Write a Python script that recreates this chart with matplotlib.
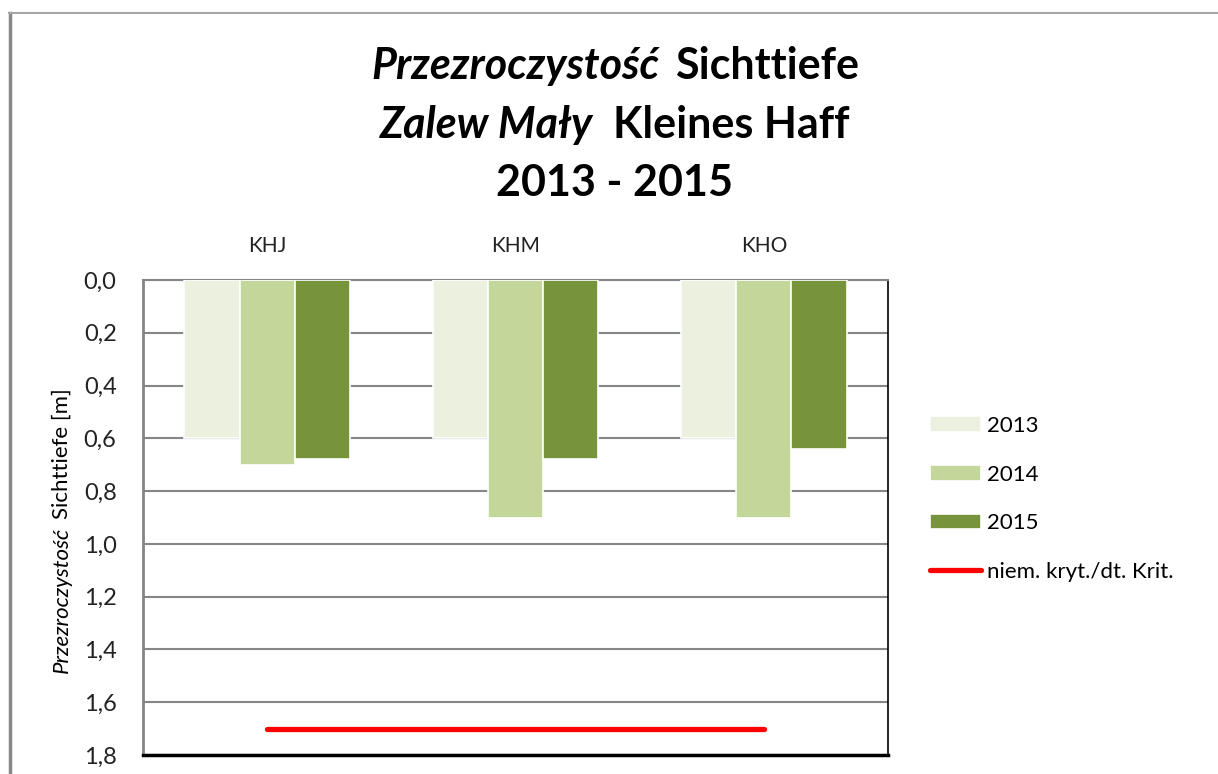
import numpy as np
import matplotlib
matplotlib.use("Agg")
import matplotlib.pyplot as plt
from matplotlib.ticker import FuncFormatter, MultipleLocator
from matplotlib.lines import Line2D

plt.rcParams['font.family'] = ['Lato', 'DejaVu Sans']

# data
stations = ['KHJ', 'KHM', 'KHO']
years = ['2013', '2014', '2015']
depth_2013 = [0.6, 0.6, 0.6]
depth_2014 = [0.7, 0.9, 0.9]
depth_2015 = [0.68, 0.68, 0.64]
crit = [1.7, 1.7, 1.7]
crit_label = 'niem. kryt./dt. Krit.'
colors = ['#EBF1DE', '#C4D79B', '#77933C']

W, H = 1218, 774
fig = plt.figure(figsize=(W / 100, H / 100), dpi=100)
ax = fig.add_axes([143 / W, 19 / H, 745 / W, 475 / H])

x = np.arange(len(stations))
bw = 0.222
for i, (vals, lab) in enumerate(zip([depth_2013, depth_2014, depth_2015], years)):
    ax.bar(x + (i - 1) * bw, vals, bw, color=colors[i], edgecolor='white',
           linewidth=1.2, label=lab, zorder=3)
ax.plot(x, crit, color='#FF0000', lw=3.8, solid_capstyle='round', label=crit_label, zorder=4)

ax.set_xlim(-0.5, 2.5)
ax.set_ylim(1.8, 0.0)
ax.yaxis.set_major_locator(MultipleLocator(0.2))
ax.yaxis.set_major_formatter(FuncFormatter(lambda v, p: f'{v:.1f}'.replace('.', ',')))
ax.grid(axis='y', color='#868686', lw=1.5, zorder=0)
ax.set_xticks(x)
ax.set_xticklabels(stations)
ax.xaxis.tick_top()
ax.tick_params(axis='x', length=0, pad=17, labelsize=15, colors='#222222')
ax.tick_params(axis='y', length=0, pad=19, labelsize=17, colors='#222222')
ax.spines['left'].set_color('#868686')
ax.spines['left'].set_linewidth(2)
ax.spines['top'].set_color('#868686')
ax.spines['top'].set_linewidth(1.5)
ax.spines['right'].set_color('black')
ax.spines['right'].set_linewidth(1.2)
ax.spines['bottom'].set_color('black')
ax.spines['bottom'].set_linewidth(2.5)

# legend: bars first, then the criterion line
handles, labels = ax.get_legend_handles_labels()
order = [1, 2, 3, 0]
ax.legend([handles[k] for k in order], [labels[k] for k in order],
          loc='center left', bbox_to_anchor=(930 / W, 1 - 499 / H),
          bbox_transform=fig.transFigure, frameon=False, fontsize=16,
          handlelength=2.3, handletextpad=0.25, labelspacing=1.29,
          borderpad=0, borderaxespad=0)

# two-style text pieces, centered together
renderer = fig.canvas.get_renderer()


def two_part(cx, cy, a, b, size, style_a, style_b, weight_a, weight_b, gap=10, rotation=0):
    ta = fig.text(0, 0, a, fontsize=size, style=style_a, weight=weight_a,
                  rotation=rotation, ha='left', va='center')
    tb = fig.text(0, 0, b, fontsize=size, style=style_b, weight=weight_b,
                  rotation=rotation, ha='left', va='center')
    ea = ta.get_window_extent(renderer)
    eb = tb.get_window_extent(renderer)
    if rotation == 0:
        total = ea.width + gap + eb.width
        x0 = cx - total / 2
        ta.set_position((x0 / W, 1 - cy / H))
        tb.set_position(((x0 + ea.width + gap) / W, 1 - cy / H))
    else:
        total = ea.height + gap + eb.height
        y0 = (H - cy) - total / 2
        ta.set_ha('center'); tb.set_ha('center')
        ta.set_va('bottom'); tb.set_va('bottom')
        ta.set_position((cx / W, y0 / H))
        tb.set_position((cx / W, (y0 + ea.height + gap) / H))


two_part(615, 66, 'Przezroczystość', 'Sichttiefe', 31, 'italic', 'normal', 'bold', 'bold', gap=16)
two_part(615, 125, 'Zalew Mały', 'Kleines Haff', 31, 'italic', 'normal', 'bold', 'bold', gap=20)
fig.text(615 / W, 1 - 183 / H, '2013 - 2015', fontsize=31, weight='bold', ha='center', va='center')
two_part(62, 531, 'Przezroczystość', 'Sichttiefe [m]', 16, 'italic', 'normal', 'normal', 'normal',
         gap=8, rotation=90)

# outer border
fig.add_artist(Line2D([10 / W, 10 / W], [0, 1 - 13 / H], transform=fig.transFigure,
                      color='#888888', lw=2.5))
fig.add_artist(Line2D([9 / W, 1], [1 - 13 / H, 1 - 13 / H], transform=fig.transFigure,
                      color='#A6A6A6', lw=1.5))

fig.savefig('out.png', dpi=100)
